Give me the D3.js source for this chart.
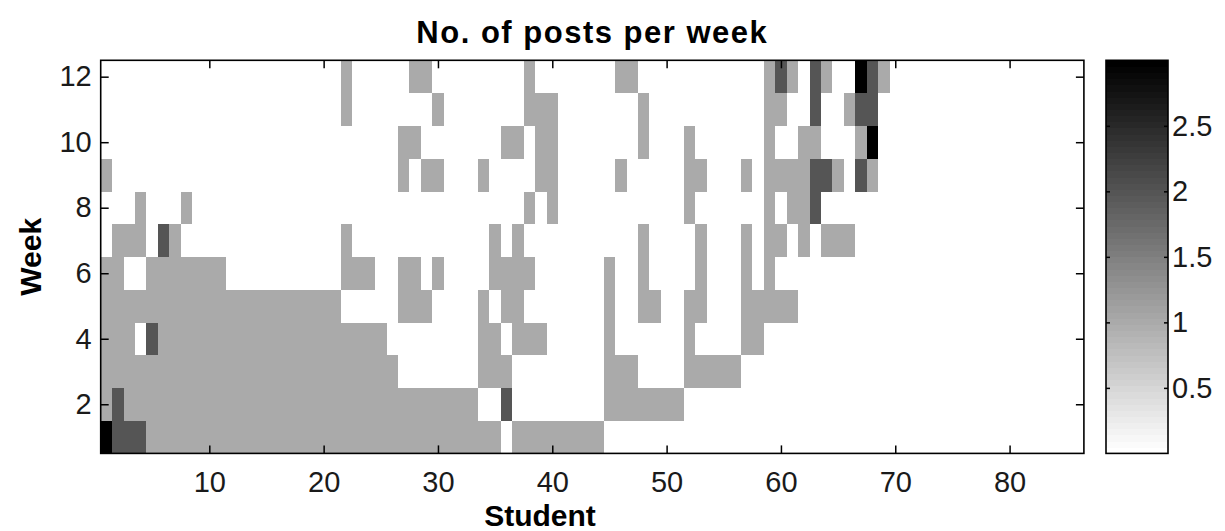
<!DOCTYPE html>
<html>
<head>
<meta charset="utf-8">
<script src="https://cdn.jsdelivr.net/npm/d3@7"></script>
<style>
  html, body { margin: 0; padding: 0; background: #fff; }
  svg { display: block; }
  text { font-family: "Liberation Sans", Arial, sans-serif; }
</style>
</head>
<body>
<svg id="chart" width="1225" height="531"></svg>
<script>
// ---- Data: number of posts per week (rows = weeks 1..12, columns = students 1..86)
const week01 = [3,2,2,2,1,1,1,1,1,1, 1,1,1,1,1,1,1,1,1,1, 1,1,1,1,1,1,1,1,1,1, 1,1,1,1,1,0,1,1,1,1, 1,1,1,1,0,0,0,0,0,0, 0,0,0,0,0,0,0,0,0,0, 0,0,0,0,0,0,0,0,0,0, 0,0,0,0,0,0,0,0,0,0, 0,0,0,0,0,0];
const week02 = [1,2,1,1,1,1,1,1,1,1, 1,1,1,1,1,1,1,1,1,1, 1,1,1,1,1,1,1,1,1,1, 1,1,1,0,0,2,0,0,0,0, 0,0,0,0,1,1,1,1,1,1, 1,0,0,0,0,0,0,0,0,0, 0,0,0,0,0,0,0,0,0,0, 0,0,0,0,0,0,0,0,0,0, 0,0,0,0,0,0];
const week03 = [1,1,1,1,1,1,1,1,1,1, 1,1,1,1,1,1,1,1,1,1, 1,1,1,1,1,1,0,0,0,0, 0,0,0,1,1,1,0,0,0,0, 0,0,0,0,1,1,1,0,0,0, 0,1,1,1,1,1,0,0,0,0, 0,0,0,0,0,0,0,0,0,0, 0,0,0,0,0,0,0,0,0,0, 0,0,0,0,0,0];
const week04 = [1,1,1,0,2,1,1,1,1,1, 1,1,1,1,1,1,1,1,1,1, 1,1,1,1,1,0,0,0,0,0, 0,0,0,1,1,0,1,1,1,0, 0,0,0,0,1,0,0,0,0,0, 0,1,0,0,0,0,1,1,0,0, 0,0,0,0,0,0,0,0,0,0, 0,0,0,0,0,0,0,0,0,0, 0,0,0,0,0,0];
const week05 = [1,1,1,1,1,1,1,1,1,1, 1,1,1,1,1,1,1,1,1,1, 1,0,0,0,0,0,1,1,1,0, 0,0,0,1,0,1,1,0,0,0, 0,0,0,0,1,0,0,1,1,0, 0,1,1,0,0,0,1,1,1,1, 1,0,0,0,0,0,0,0,0,0, 0,0,0,0,0,0,0,0,0,0, 0,0,0,0,0,0];
const week06 = [1,1,0,0,1,1,1,1,1,1, 1,0,0,0,0,0,0,0,0,0, 0,1,1,1,0,0,1,1,0,1, 0,0,0,0,1,1,1,1,0,0, 0,0,0,0,1,0,0,1,0,0, 0,0,1,0,0,0,1,0,1,0, 0,0,0,0,0,0,0,0,0,0, 0,0,0,0,0,0,0,0,0,0, 0,0,0,0,0,0];
const week07 = [0,1,1,1,0,2,1,0,0,0, 0,0,0,0,0,0,0,0,0,0, 0,1,0,0,0,0,0,0,0,0, 0,0,0,0,1,0,1,0,0,0, 0,0,0,0,0,0,0,1,0,0, 0,0,1,0,0,0,1,0,1,1, 0,1,0,1,1,1,0,0,0,0, 0,0,0,0,0,0,0,0,0,0, 0,0,0,0,0,0];
const week08 = [0,0,0,1,0,0,0,1,0,0, 0,0,0,0,0,0,0,0,0,0, 0,0,0,0,0,0,0,0,0,0, 0,0,0,0,0,0,0,1,0,1, 0,0,0,0,0,0,0,0,0,0, 0,1,0,0,0,0,0,0,1,0, 1,1,2,0,0,0,0,0,0,0, 0,0,0,0,0,0,0,0,0,0, 0,0,0,0,0,0];
const week09 = [1,0,0,0,0,0,0,0,0,0, 0,0,0,0,0,0,0,0,0,0, 0,0,0,0,0,0,1,0,1,1, 0,0,0,1,0,0,0,0,1,1, 0,0,0,0,0,1,0,0,0,0, 0,1,1,0,0,0,1,0,1,1, 1,1,2,2,1,0,2,1,0,0, 0,0,0,0,0,0,0,0,0,0, 0,0,0,0,0,0];
const week10 = [0,0,0,0,0,0,0,0,0,0, 0,0,0,0,0,0,0,0,0,0, 0,0,0,0,0,0,1,1,0,0, 0,0,0,0,0,1,1,0,1,1, 0,0,0,0,0,0,0,1,0,0, 0,1,0,0,0,0,0,0,1,0, 0,1,1,0,0,0,1,3,0,0, 0,0,0,0,0,0,0,0,0,0, 0,0,0,0,0,0];
const week11 = [0,0,0,0,0,0,0,0,0,0, 0,0,0,0,0,0,0,0,0,0, 0,1,0,0,0,0,0,0,0,1, 0,0,0,0,0,0,0,1,1,1, 0,0,0,0,0,0,0,1,0,0, 0,0,0,0,0,0,0,0,1,1, 0,0,2,0,0,1,2,2,0,0, 0,0,0,0,0,0,0,0,0,0, 0,0,0,0,0,0];
const week12 = [0,0,0,0,0,0,0,0,0,0, 0,0,0,0,0,0,0,0,0,0, 0,1,0,0,0,0,0,1,1,0, 0,0,0,0,0,0,0,1,0,0, 0,0,0,0,0,1,1,0,0,0, 0,0,0,0,0,0,0,0,1,2, 1,0,2,1,0,0,3,2,1,0, 0,0,0,0,0,0,0,0,0,0, 0,0,0,0,0,0];

const weekRows = [week01, week02, week03, week04, week05, week06, week07, week08, week09, week10, week11, week12];
const numStudents = 86;
const numWeeks = 12;
const xTickValues = [10, 20, 30, 40, 50, 60, 70, 80];
const yTickValues = [2, 4, 6, 8, 10, 12];
const cbTickValues = [0.5, 1, 1.5, 2, 2.5];
const colorDomain = [0, 3];
const titleText = "No. of posts per week";
const xLabelText = "Student";
const yLabelText = "Week";

// ---- Layout
const svg = d3.select("#chart");
const plot = { left: 100.7, right: 1083.9, top: 60.3, bottom: 453.4 };
const cbar = { left: 1106, right: 1168, top: 60.3, bottom: 453.4 };
const tickLen = 8;
const fontSize = 29;

const x = d3.scaleLinear().domain([0.5, numStudents + 0.5]).range([plot.left, plot.right]);
const y = d3.scaleLinear().domain([0.5, numWeeks + 0.5]).range([plot.bottom, plot.top]);

// MATLAB-like flipped gray colormap with 64 levels
const nLevels = 64;
function colorOf(v) {
  const t = (v - colorDomain[0]) / (colorDomain[1] - colorDomain[0]);
  const idx = Math.max(0, Math.min(nLevels - 1, Math.floor(t * nLevels)));
  const g = Math.round(255 * (nLevels - 1 - idx) / (nLevels - 1));
  return d3.rgb(g, g, g).toString();
}

const cells = [];
weekRows.forEach((row, wi) => {
  row.forEach((v, si) => cells.push({ student: si + 1, week: wi + 1, value: v }));
});

// background
svg.append("rect").attr("x", plot.left).attr("y", plot.top)
  .attr("width", plot.right - plot.left).attr("height", plot.bottom - plot.top)
  .attr("fill", colorOf(0));

svg.append("g").attr("shape-rendering", "crispEdges")
  .selectAll("rect").data(cells).join("rect")
  .attr("x", d => x(d.student - 0.5))
  .attr("y", d => y(d.week + 0.5))
  .attr("width", d => x(d.student + 0.5) - x(d.student - 0.5) + 0.3)
  .attr("height", d => y(d.week - 0.5) - y(d.week + 0.5) + 0.3)
  .attr("fill", d => colorOf(d.value));

// axes
function styleAxis(g) {
  g.select(".domain").remove();
  g.selectAll(".tick line").attr("stroke", "#000").attr("stroke-width", 1.5);
  g.selectAll(".tick text").attr("fill", "#1a1a1a").style("font-size", fontSize + "px")
    .style("font-family", '"Liberation Sans", Arial, sans-serif');
}

svg.append("g").attr("transform", `translate(0,${plot.bottom})`)
  .call(d3.axisBottom(x).tickValues(xTickValues).tickSizeInner(-tickLen).tickSizeOuter(0).tickPadding(18).tickFormat(d3.format("d")))
  .call(styleAxis);
svg.append("g").attr("transform", `translate(0,${plot.top})`)
  .call(d3.axisTop(x).tickValues(xTickValues).tickSizeInner(-tickLen).tickSizeOuter(0).tickFormat(""))
  .call(styleAxis);
svg.append("g").attr("transform", `translate(${plot.left},0)`)
  .call(d3.axisLeft(y).tickValues(yTickValues).tickSizeInner(-tickLen).tickSizeOuter(0).tickPadding(9).tickFormat(d3.format("d")))
  .call(styleAxis);
svg.append("g").attr("transform", `translate(${plot.right},0)`)
  .call(d3.axisRight(y).tickValues(yTickValues).tickSizeInner(-tickLen).tickSizeOuter(0).tickFormat(""))
  .call(styleAxis);

// plot frame
svg.append("rect").attr("x", plot.left).attr("y", plot.top)
  .attr("width", plot.right - plot.left).attr("height", plot.bottom - plot.top)
  .attr("fill", "none").attr("stroke", "#000").attr("stroke-width", 1.6);

// colorbar
const cy = d3.scaleLinear().domain(colorDomain).range([cbar.bottom, cbar.top]);
const bands = d3.range(nLevels).map(i => ({
  v0: colorDomain[0] + (colorDomain[1] - colorDomain[0]) * i / nLevels,
  v1: colorDomain[0] + (colorDomain[1] - colorDomain[0]) * (i + 1) / nLevels
}));
svg.append("g").attr("shape-rendering", "crispEdges")
  .selectAll("rect").data(bands).join("rect")
  .attr("x", cbar.left).attr("width", cbar.right - cbar.left)
  .attr("y", d => cy(d.v1)).attr("height", d => cy(d.v0) - cy(d.v1) + 0.5)
  .attr("fill", d => colorOf((d.v0 + d.v1) / 2));

svg.append("g").attr("transform", `translate(${cbar.right},0)`)
  .call(d3.axisRight(cy).tickValues(cbTickValues).tickSizeInner(-4).tickSizeOuter(0).tickPadding(4).tickFormat(d3.format("~g")))
  .call(styleAxis);
svg.append("g").attr("transform", `translate(${cbar.left},0)`)
  .call(d3.axisLeft(cy).tickValues(cbTickValues).tickSizeInner(-4).tickSizeOuter(0).tickFormat(""))
  .call(styleAxis);
svg.append("rect").attr("x", cbar.left).attr("y", cbar.top)
  .attr("width", cbar.right - cbar.left).attr("height", cbar.bottom - cbar.top)
  .attr("fill", "none").attr("stroke", "#000").attr("stroke-width", 1.6);

// titles
svg.append("text").attr("x", (plot.left + plot.right) / 2).attr("y", 43)
  .attr("text-anchor", "middle").style("font-weight", "bold").style("font-size", "31px")
  .style("letter-spacing", "1.5px")
  .attr("fill", "#000").text(titleText);
svg.append("text").attr("x", 540).attr("y", 526)
  .attr("text-anchor", "middle").style("font-weight", "bold").style("font-size", "30px")
  .attr("fill", "#000").text(xLabelText);
svg.append("text").attr("transform", `translate(41,${(plot.top + plot.bottom) / 2}) rotate(-90)`)
  .attr("text-anchor", "middle").style("font-weight", "bold").style("font-size", "30px")
  .attr("fill", "#000").text(yLabelText);
</script>
</body>
</html>
